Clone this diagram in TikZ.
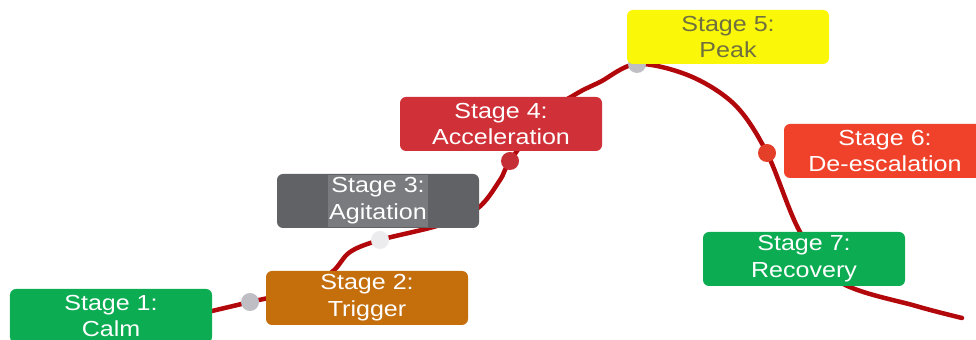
\documentclass[tikz,border=0pt]{standalone}
\usepackage{fontspec}
\setmainfont{Liberation Sans}[FakeStretch=1.15]
\definecolor{curvered}{RGB}{178,8,12}
\definecolor{calmgreen}{RGB}{12,172,82}
\definecolor{triggerorange}{RGB}{196,110,12}
\definecolor{agitgray}{RGB}{96,98,101}
\definecolor{agitlight}{RGB}{122,123,126}
\definecolor{accelred}{RGB}{208,48,56}
\definecolor{peakyellow}{RGB}{250,248,8}
\definecolor{peaktext}{RGB}{112,112,62}
\definecolor{deescred}{RGB}{240,66,42}
\definecolor{dotgray}{RGB}{190,190,196}
\definecolor{dotwhite}{RGB}{236,236,238}
\begin{document}
\begin{tikzpicture}
		\tikzstyle{every node}=[font=\fontsize{15.5pt}{19pt}\selectfont]
		\tikzstyle{stagebox}=[rounded corners=0.15cm, minimum width=5.05cm, minimum height=1.35cm, align=center, text=white, inner sep=0pt]
		\tikzstyle{stagedot}=[circle, inner sep=0pt, minimum size=0.45cm]
		
		\useasboundingbox (0,0) rectangle (24.4,8.5);
		
		% points where the curve has its dots
		\coordinate (d1) at (6.25,0.95);
		\coordinate (d2) at (9.5,2.5);
		\coordinate (d3) at (12.75,4.475);
		\coordinate (d4) at (15.925,6.9);
		\coordinate (d5) at (19.175,4.675);
		
		\draw [curvered, line width=3.2pt, line cap=round] plot [smooth, tension=0.55] coordinates {(5.3,0.725) (d1) (7.5,1.25) (8.3,1.7) (8.75,2.2) (d2) (11,2.875) (11.95,3.3) (12.5,4.0) (d3) (13.6,5.6) (14.4,6.15) (15.0,6.45) (d4) (17.25,6.6) (18.375,5.875) (d5) (20,2.7) (21,1.45) (22.9,0.85) (24.05,0.55)};
		
		\node [stagedot, fill=dotgray] (dot1) at (d1) {};
		\node [stagedot, fill=dotwhite] (dot2) at (d2) {};
		\node [stagedot, fill=accelred!95!black] (dot3) at (d3) {};
		\node [stagedot, fill=dotgray] (dot4) at (d4) {};
		\node [stagedot, fill=deescred!95!black] (dot5) at (d5) {};
		
		\node [stagebox, fill=calmgreen] (stage1) at (2.775,0.6) {Stage 1:\\Calm};
		\node [stagebox, fill=triggerorange] (stage2) at (9.175,1.05) {Stage 2:\\Trigger};
		\node [stagebox, fill=agitgray] (stage3) at (9.45,3.475) {};
		\node [fill=agitlight, text=white, align=center, inner xsep=1pt, inner ysep=2pt] (stage3text) at (stage3) {Stage 3:\\Agitation};
		\node [stagebox, fill=accelred] (stage4) at (12.525,5.4) {Stage 4:\\Acceleration};
		\node [stagebox, fill=peakyellow, text=peaktext] (stage5) at (18.2,7.575) {Stage 5:\\Peak};
		\node [stagebox, fill=deescred] (stage6) at (22.125,4.725) {Stage 6:\\De-escalation};
		\node [stagebox, fill=calmgreen] (stage7) at (20.1,2.025) {Stage 7:\\Recovery};
		
	\end{tikzpicture}
\end{document}
